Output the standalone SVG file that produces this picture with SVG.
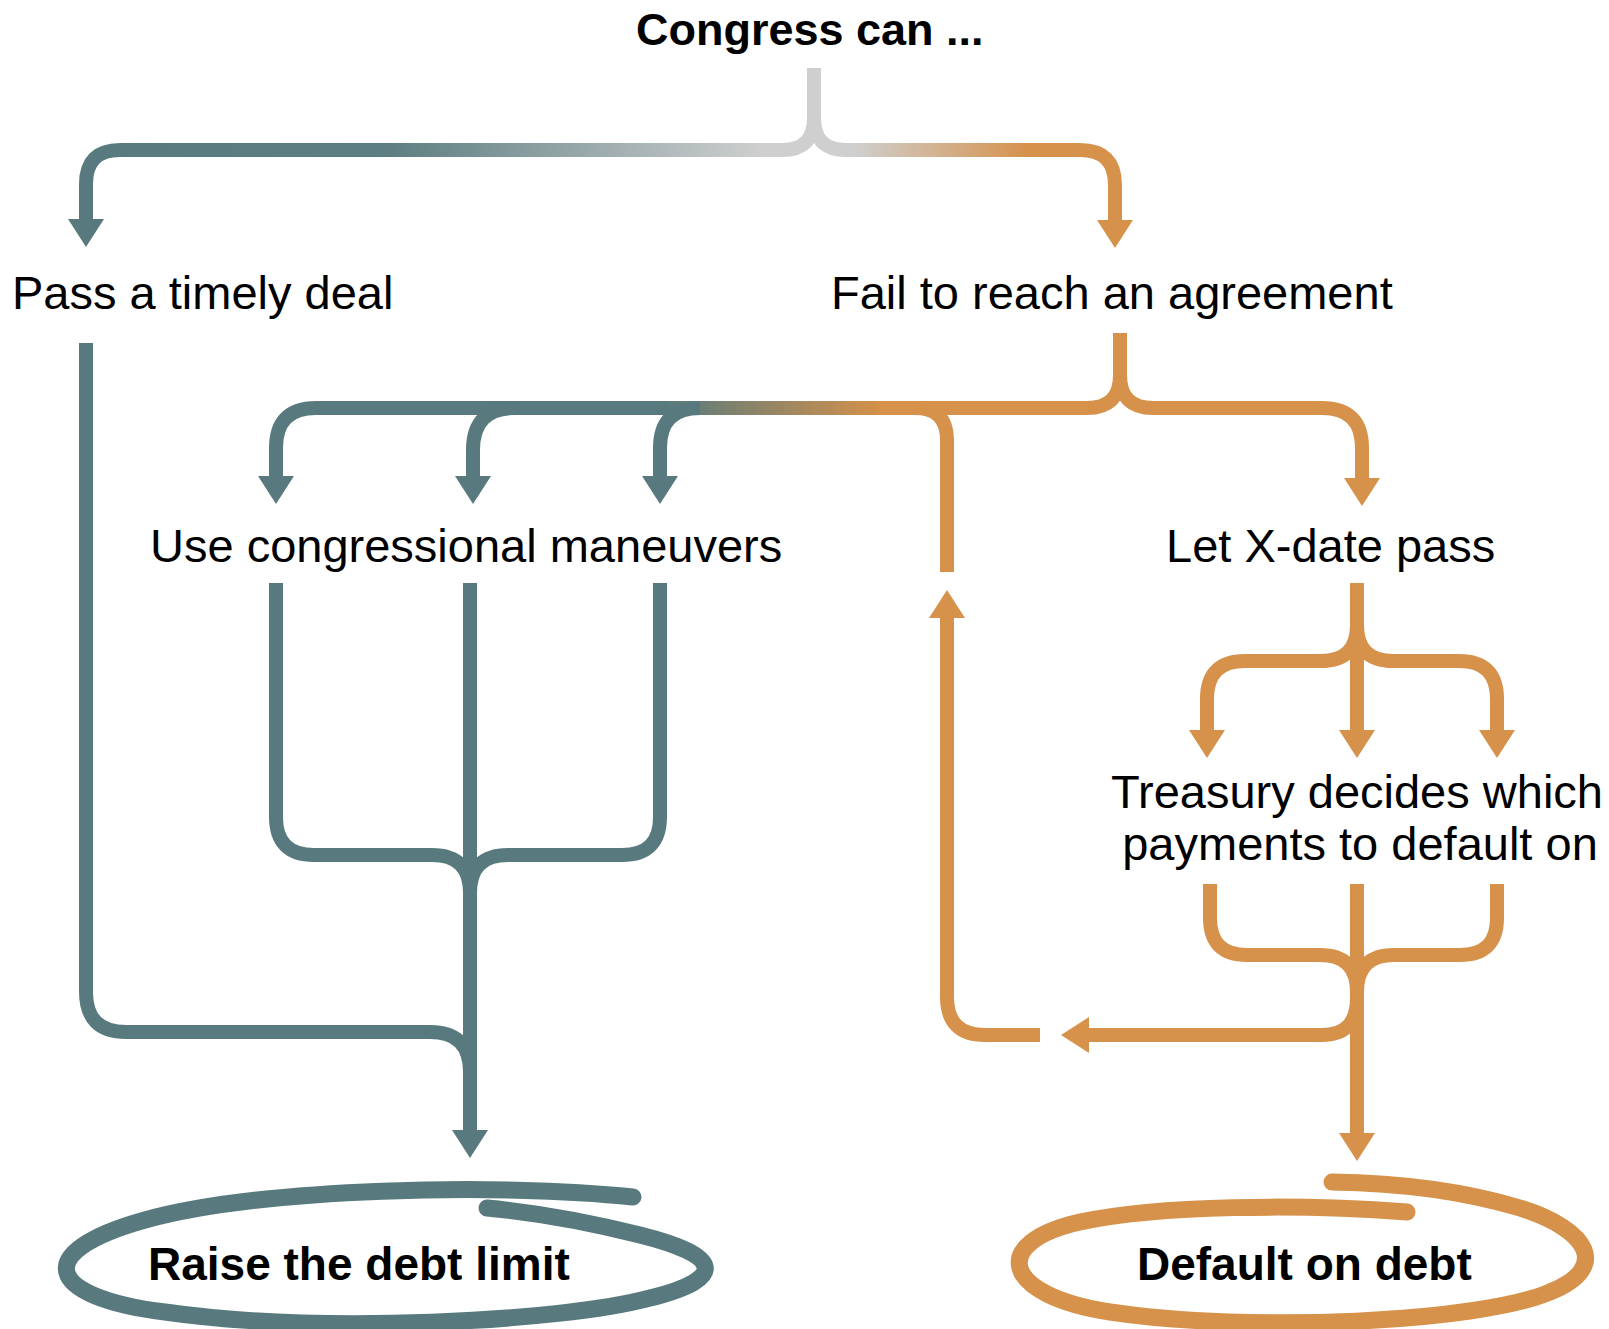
<svg xmlns="http://www.w3.org/2000/svg" width="1609" height="1329" viewBox="0 0 1609 1329">
<style>
.ln{fill:none;stroke-width:14;stroke-linejoin:round}
.teal{stroke:#587a7e}
.orange{stroke:#d6914a}
.loop{fill:none;stroke-width:17;stroke-linecap:round}
.lbl{font-family:"Liberation Sans",Arial,sans-serif;font-size:47px;fill:#000}
.bold{font-family:"Liberation Sans",Arial,sans-serif;font-weight:bold;fill:#000}
</style>
<defs>
<marker id="aT" viewBox="0 0 28 36" refX="0" refY="18" markerWidth="28" markerHeight="36" markerUnits="userSpaceOnUse" orient="auto"><path d="M0,0 L28,18 L0,36 Z" fill="#587a7e"/></marker>
<marker id="aO" viewBox="0 0 28 36" refX="0" refY="18" markerWidth="28" markerHeight="36" markerUnits="userSpaceOnUse" orient="auto"><path d="M0,0 L28,18 L0,36 Z" fill="#d6914a"/></marker>
<linearGradient id="gTopL" gradientUnits="userSpaceOnUse" x1="86" y1="0" x2="814" y2="0">
<stop offset="0" stop-color="#587a7e"/><stop offset="0.42" stop-color="#5e7f82"/><stop offset="0.93" stop-color="#cfcfcf"/><stop offset="1" stop-color="#cfcfcf"/>
</linearGradient>
<linearGradient id="gTopR" gradientUnits="userSpaceOnUse" x1="814" y1="0" x2="1115" y2="0">
<stop offset="0" stop-color="#cfcfcf"/><stop offset="0.13" stop-color="#cfcfcf"/><stop offset="0.72" stop-color="#d6914a"/><stop offset="1" stop-color="#d6914a"/>
</linearGradient>
<linearGradient id="gFail" gradientUnits="userSpaceOnUse" x1="276" y1="0" x2="1120" y2="0">
<stop offset="0" stop-color="#587a7e"/><stop offset="0.46" stop-color="#587a7e"/><stop offset="0.72" stop-color="#d6914a"/><stop offset="1" stop-color="#d6914a"/>
</linearGradient>
</defs>

<g id="connectors">
<path class="ln" stroke="url(#gTopL)" d="M814,68 V118 Q814,150 782,150 H120 Q86,150 86,184 V219" marker-end="url(#aT)"/>
<path class="ln" stroke="url(#gTopR)" d="M814,68 V118 Q814,150 846,150 H1080 Q1115,150 1115,185 V220" marker-end="url(#aO)"/>
<path class="ln teal" d="M86,343 V992 Q86,1032 126,1032 H430 Q470,1032 470,1072"/>
<path class="ln" stroke="url(#gFail)" d="M1120,333 V375 Q1120,408 1087,408 H316 Q276,408 276,448 V476" marker-end="url(#aT)"/>
<path class="ln teal" d="M515,408 Q473,408 473,450 V476" marker-end="url(#aT)"/>
<path class="ln teal" d="M700,408 Q660,408 660,448 V476" marker-end="url(#aT)"/>
<path class="ln orange" d="M1120,375 Q1120,408 1153,408 H1322 Q1362,408 1362,448 V478" marker-end="url(#aO)"/>
<path class="ln orange" d="M947,572 V440 Q947,408 915,408 H880"/>
<path class="ln teal" d="M276,583 V817 Q276,855 314,855 H432 Q470,855 470,893"/>
<path class="ln teal" d="M660,583 V817 Q660,855 622,855 H508 Q470,855 470,893"/>
<path class="ln teal" d="M470,583 V1130" marker-end="url(#aT)"/>
<path class="ln orange" d="M1357,583 V625 Q1357,661 1321,661 H1245 Q1207,661 1207,699 V730" marker-end="url(#aO)"/>
<path class="ln orange" d="M1357,625 Q1357,661 1393,661 H1459 Q1497,661 1497,699 V730" marker-end="url(#aO)"/>
<path class="ln orange" d="M1357,625 V730" marker-end="url(#aO)"/>
<path class="ln orange" d="M1210,884 V918 Q1210,955 1247,955 H1320 Q1357,955 1357,992"/>
<path class="ln orange" d="M1497,884 V918 Q1497,955 1460,955 H1394 Q1357,955 1357,992"/>
<path class="ln orange" d="M1357,884 V1133" marker-end="url(#aO)"/>
<path class="ln orange" d="M1357,998 Q1357,1035 1322,1035 H1089" marker-end="url(#aO)"/>
<path class="ln orange" d="M1040,1035 H985 Q947,1035 947,997 V618" marker-end="url(#aO)"/>
</g>

<g id="node-congress"><text class="bold" x="636" y="45" font-size="45">Congress can ...</text></g>
<g id="node-pass"><text class="lbl" x="12" y="309">Pass a timely deal</text></g>
<g id="node-fail"><text class="lbl" x="831" y="309">Fail to reach an agreement</text></g>
<g id="node-maneuvers"><text class="lbl" x="150" y="562">Use congressional maneuvers</text></g>
<g id="node-xdate"><text class="lbl" x="1166" y="562">Let X-date pass</text></g>
<g id="node-treasury">
<text class="lbl" x="1357" y="808" text-anchor="middle">Treasury decides which</text>
<text class="lbl" x="1360" y="860" text-anchor="middle">payments to default on</text>
</g>
<g id="node-raise">
<path class="loop teal" d="M633,1197 C500,1183 260,1188 145,1220 C30,1252 45,1297 165,1312 C320,1334 560,1322 650,1298 C730,1278 720,1255 640,1235 C580,1220 530,1212 487,1208"/>
<text class="bold" x="148" y="1280" font-size="46">Raise the debt limit</text>
</g>
<g id="node-default">
<path class="loop orange" d="M1407,1212 C1300,1204 1160,1205 1080,1222 C990,1242 1000,1295 1110,1312 C1250,1333 1480,1322 1550,1292 C1610,1268 1590,1230 1520,1208 C1460,1190 1400,1183 1332,1182"/>
<text class="bold" x="1137" y="1280" font-size="46">Default on debt</text>
</g>
</svg>
